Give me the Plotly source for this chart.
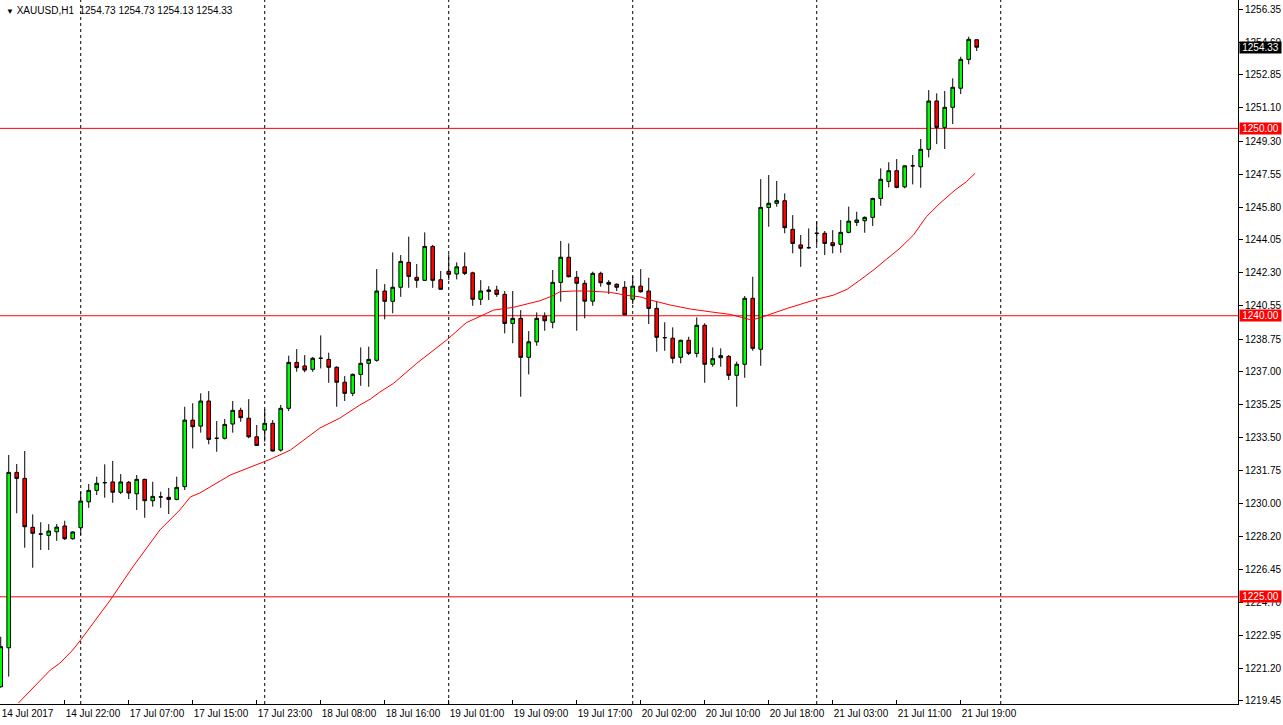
import plotly.graph_objects as go

# ---------------- data ----------------
symbol = "XAUUSD,H1"

opens = [1220.20, 1222.28, 1231.64, 1231.32, 1228.71, 1228.35, 1228.28, 1228.47, 1228.78, 1228.10,
         1228.69, 1230.07, 1230.68, 1231.09, 1231.13, 1230.58, 1231.11, 1230.50, 1231.27, 1230.13,
         1230.33, 1230.31, 1230.20, 1230.88, 1234.43, 1234.11, 1235.45, 1233.46, 1233.46, 1234.22,
         1234.95, 1234.53, 1233.54, 1233.90, 1234.26, 1232.83, 1235.06, 1237.51, 1237.32, 1237.14,
         1237.73, 1237.67, 1237.25, 1236.45, 1235.86, 1236.87, 1237.46, 1237.62, 1241.32, 1240.77,
         1241.52, 1242.85, 1242.05, 1241.89, 1243.70, 1241.92, 1242.37, 1242.23, 1242.61, 1242.29,
         1240.88, 1241.30, 1241.37, 1241.14, 1239.59, 1239.86, 1237.78, 1238.61, 1239.98, 1239.65,
         1241.78, 1243.12, 1242.05, 1241.73, 1240.78, 1242.26, 1241.78, 1241.68, 1241.52, 1240.88,
         1241.58, 1241.32, 1240.39, 1238.83, 1238.80, 1237.78, 1238.69, 1237.99, 1239.49, 1237.41,
         1237.76, 1237.83, 1236.82, 1237.41, 1240.93, 1238.21, 1245.78, 1246.00, 1246.14, 1244.61,
         1243.78, 1243.63, 1244.40, 1244.40, 1243.90, 1243.81, 1244.45, 1244.98, 1245.07, 1245.25,
         1246.26, 1247.17, 1247.74, 1246.88, 1248.00, 1247.95, 1248.88, 1251.46, 1250.05, 1251.12,
         1252.14, 1253.68, 1254.73]
highs = [1222.87, 1232.57, 1232.09, 1232.78, 1229.40, 1228.98, 1228.88, 1228.88, 1229.06, 1228.50,
         1230.61, 1231.02, 1231.41, 1232.07, 1232.25, 1231.55, 1231.18, 1231.50, 1231.30, 1231.14,
         1230.61, 1230.81, 1231.41, 1235.14, 1235.33, 1235.86, 1235.98, 1234.38, 1234.49, 1235.45,
         1235.09, 1235.55, 1234.17, 1235.02, 1234.43, 1235.24, 1237.87, 1238.22, 1237.90, 1237.80,
         1238.95, 1238.03, 1237.30, 1236.78, 1236.92, 1238.31, 1238.35, 1242.49, 1241.69, 1243.38,
         1243.24, 1244.22, 1242.76, 1244.45, 1243.78, 1242.39, 1243.28, 1242.85, 1243.38, 1242.35,
         1241.90, 1241.58, 1241.60, 1241.32, 1241.32, 1240.30, 1239.18, 1240.18, 1240.18, 1242.44,
         1243.99, 1243.86, 1242.39, 1241.90, 1242.35, 1242.35, 1241.90, 1241.73, 1241.85, 1242.12,
         1242.49, 1242.03, 1240.75, 1239.65, 1239.38, 1238.72, 1238.88, 1239.91, 1239.60, 1238.31,
         1238.26, 1237.90, 1237.55, 1241.05, 1242.08, 1247.29, 1247.51, 1247.19, 1246.53, 1245.37,
         1244.31, 1244.66, 1245.02, 1244.52, 1244.57, 1245.11, 1245.82, 1245.55, 1245.30, 1246.30,
         1247.87, 1248.19, 1248.36, 1248.02, 1248.58, 1249.43, 1252.04, 1251.87, 1251.99, 1252.67,
         1253.82, 1254.89, 1254.73]
lows = [1220.15, 1220.74, 1229.46, 1227.62, 1226.55, 1227.50, 1227.50, 1227.99, 1228.03, 1228.05,
        1228.30, 1229.75, 1230.43, 1230.29, 1230.02, 1230.49, 1230.22, 1229.63, 1229.22, 1229.81,
        1229.75, 1229.42, 1230.15, 1230.70, 1232.92, 1233.76, 1233.14, 1232.74, 1233.40, 1233.76,
        1234.34, 1233.46, 1233.05, 1233.28, 1232.75, 1232.75, 1234.91, 1237.01, 1236.98, 1237.01,
        1237.19, 1236.42, 1235.14, 1235.45, 1235.71, 1236.26, 1236.21, 1237.55, 1239.81, 1240.13,
        1241.01, 1241.49, 1241.49, 1241.85, 1241.49, 1241.40, 1241.90, 1241.94, 1242.17, 1240.53,
        1240.57, 1240.84, 1241.01, 1239.06, 1238.53, 1235.68, 1236.87, 1238.40, 1239.20, 1239.33,
        1240.75, 1242.05, 1239.20, 1239.86, 1240.53, 1241.55, 1241.16, 1241.32, 1240.03, 1240.62,
        1241.23, 1239.56, 1238.08, 1238.13, 1237.46, 1237.46, 1237.90, 1237.78, 1236.42, 1237.28,
        1237.28, 1236.57, 1235.14, 1236.69, 1238.13, 1237.33, 1244.75, 1245.82, 1244.40, 1243.33,
        1242.61, 1243.58, 1243.78, 1243.24, 1243.33, 1243.36, 1244.40, 1244.79, 1244.43, 1244.79,
        1245.87, 1246.85, 1246.80, 1246.80, 1247.01, 1246.83, 1248.45, 1249.16, 1248.90, 1250.23,
        1251.83, 1253.42, 1254.13]
closes = [1222.34, 1231.64, 1231.32, 1228.74, 1228.39, 1228.35, 1228.51, 1228.72, 1228.10, 1228.46,
          1230.11, 1230.68, 1231.06, 1231.09, 1230.58, 1231.13, 1230.54, 1231.27, 1230.13, 1230.36,
          1230.33, 1230.20, 1230.84, 1234.43, 1234.08, 1235.45, 1233.40, 1233.46, 1234.20, 1234.95,
          1234.56, 1233.54, 1233.08, 1234.26, 1232.78, 1235.06, 1237.51, 1237.23, 1237.10, 1237.73,
          1237.73, 1237.25, 1236.45, 1235.86, 1236.87, 1237.46, 1237.67, 1241.32, 1240.77, 1241.52,
          1242.90, 1242.10, 1241.89, 1243.70, 1241.89, 1241.41, 1242.21, 1242.61, 1242.26, 1240.88,
          1241.32, 1241.37, 1241.14, 1239.59, 1239.86, 1237.78, 1238.61, 1239.86, 1239.73, 1241.78,
          1243.12, 1242.08, 1241.73, 1240.78, 1242.26, 1241.76, 1241.68, 1241.52, 1240.05, 1241.58,
          1241.28, 1240.39, 1238.85, 1238.83, 1237.73, 1238.69, 1237.99, 1239.49, 1237.41, 1237.71,
          1237.87, 1236.82, 1237.41, 1240.93, 1238.26, 1245.78, 1246.00, 1246.14, 1244.70, 1243.86,
          1243.60, 1243.63, 1244.40, 1243.86, 1243.74, 1244.45, 1245.05, 1245.11, 1245.25, 1246.26,
          1247.28, 1247.74, 1246.85, 1248.00, 1248.00, 1248.88, 1251.46, 1250.05, 1251.12, 1252.19,
          1253.68, 1254.75, 1254.33]

# moving average (red line), read at bar positions
ma_pos = [2.2, 6.2, 7.4, 9.0, 10.0, 13.7, 16.5, 19.9, 22.4, 23.7, 24.9, 28.7, 33.7, 36.2, 39.9,
          42.4, 44.9, 46.2, 47.4, 49.1, 52.0, 55.9, 58.2, 61.6, 64.1, 67.4, 68.9, 69.9, 71.6, 73.3,
          76.2, 78.2, 79.9, 81.2, 83.7, 86.2, 88.7, 91.2, 93.9, 95.3, 98.3, 102.0, 104.1, 105.8,
          107.4, 109.1, 110.7, 112.4, 114.1, 115.7, 117.4, 118.2, 119.3, 120.7, 121.8]
ma_val = [1219.33, 1221.09, 1221.46, 1222.16, 1222.70, 1224.83, 1226.59, 1228.57, 1229.64, 1230.33,
          1230.54, 1231.50, 1232.34, 1232.83, 1234.01, 1234.54, 1235.24, 1235.55, 1235.93, 1236.39,
          1237.46, 1238.76, 1239.63, 1240.30, 1240.45, 1240.80, 1241.05, 1241.28, 1241.32, 1241.32,
          1241.25, 1241.09, 1241.01, 1240.84, 1240.57, 1240.36, 1240.21, 1240.07, 1239.77, 1239.95,
          1240.39, 1240.88, 1241.10, 1241.41, 1241.90, 1242.44, 1243.01, 1243.60, 1244.31, 1245.28,
          1246.00, 1246.30, 1246.71, 1247.15, 1247.60]

# x-axis labels (bar index -> label)
x_tick_pos = [0, 8, 16, 24, 32, 40, 48, 56, 64, 72, 80, 88, 96, 104, 112, 120]
x_tick_text = ["14 Jul 2017", "14 Jul 22:00", "17 Jul 07:00", "17 Jul 15:00", "17 Jul 23:00",
               "18 Jul 08:00", "18 Jul 16:00", "19 Jul 01:00", "19 Jul 09:00", "19 Jul 17:00",
               "20 Jul 02:00", "20 Jul 10:00", "20 Jul 18:00", "21 Jul 03:00", "21 Jul 11:00",
               "21 Jul 19:00"]

# day separators (bar index of first bar of each day)
day_starts = [10, 33, 56, 79, 102, 125]

# price axis labels
y_ticks = ["1256.35", "1254.60", "1252.85", "1251.10", "1249.30", "1247.55", "1245.80", "1244.05",
           "1242.30", "1240.55", "1238.75", "1237.00", "1235.25", "1233.50", "1231.75", "1230.00",
           "1228.20", "1226.45", "1224.70", "1222.95", "1221.20", "1219.45"]

# horizontal levels
levels = [1250.00, 1240.00, 1225.00]

# ---------------- figure ----------------
bars = list(range(len(opens)))
FONT = "Liberation Sans"

fig = go.Figure()
fig.add_trace(go.Candlestick(
    x=bars, open=opens, high=highs, low=lows, close=closes,
    increasing=dict(fillcolor="#00ff00", line=dict(color="#000000", width=1)),
    decreasing=dict(fillcolor="#ff0000", line=dict(color="#000000", width=1)),
    whiskerwidth=0, showlegend=False, hoverinfo="skip",
))
fig.add_trace(go.Scatter(
    x=ma_pos, y=ma_val, mode="lines", line=dict(color="#ff0000", width=1),
    showlegend=False, hoverinfo="skip",
))

shapes = []
for d in day_starts:
    shapes.append(dict(type="line", xref="x", yref="paper", x0=d, x1=d, y0=0, y1=1,
                       line=dict(color="#000000", width=1, dash="3px,3px"), layer="below"))
for lv in levels:
    shapes.append(dict(type="line", xref="paper", yref="y", x0=0, x1=1, y0=lv, y1=lv,
                       line=dict(color="#ff0000", width=1), layer="below"))

annotations = []
for lv in levels:
    annotations.append(dict(xref="paper", yref="y", x=1, y=lv, xanchor="left", yanchor="middle",
                            xshift=1, text=f"{lv:.2f}", showarrow=False, bgcolor="#ff0000",
                            font=dict(family=FONT, size=10, color="#ffffff"),
                            width=41, height=11, borderpad=0))
last = closes[-1]
annotations.append(dict(xref="paper", yref="y", x=1, y=last, xanchor="left", yanchor="middle",
                        xshift=1, text=f"{last:.2f}", showarrow=False, bgcolor="#000000",
                        font=dict(family=FONT, size=10, color="#ffffff"),
                        width=41, height=11, borderpad=0))
title_txt = (f"<span style='font-size:8px'>▼</span> {symbol}  "
             f"{opens[-1]:.2f} {highs[-1]:.2f} {lows[-1]:.2f} {closes[-1]:.2f}")
annotations.append(dict(xref="paper", yref="paper", x=0, y=1, xanchor="left", yanchor="top",
                        xshift=4, yshift=-3, text=title_txt, showarrow=False,
                        font=dict(family=FONT, size=10, color="#000000")))

fig.update_layout(
    width=1283, height=725,
    margin=dict(l=0, r=45, t=0, b=21),
    paper_bgcolor="#ffffff", plot_bgcolor="#ffffff",
    boxgap=0.35,
    shapes=shapes, annotations=annotations,
    font=dict(family=FONT, size=10, color="#000000"),
    xaxis=dict(range=[-0.09, 154.66], showgrid=False, zeroline=False,
               showline=True, linecolor="#000000", linewidth=1,
               tickmode="array", tickvals=x_tick_pos, ticktext=x_tick_text,
               ticks="inside", ticklen=4, tickcolor="#000000",
               ticklabelposition="outside right",
               tickfont=dict(family=FONT, size=10, color="#000000"),
               rangeslider=dict(visible=False), fixedrange=True),
    yaxis=dict(side="right", range=[1219.28, 1256.85], showgrid=False, zeroline=False,
               showline=True, linecolor="#000000", linewidth=1,
               tickmode="array", tickvals=[float(t) for t in y_ticks], ticktext=y_ticks,
               ticks="outside", ticklen=4, tickcolor="#000000",
               tickfont=dict(family=FONT, size=10, color="#000000"), fixedrange=True),
)

fig.write_html("out.html", config={"displayModeBar": False},
               post_script="document.body.style.margin='0';document.body.style.overflow='hidden';")
